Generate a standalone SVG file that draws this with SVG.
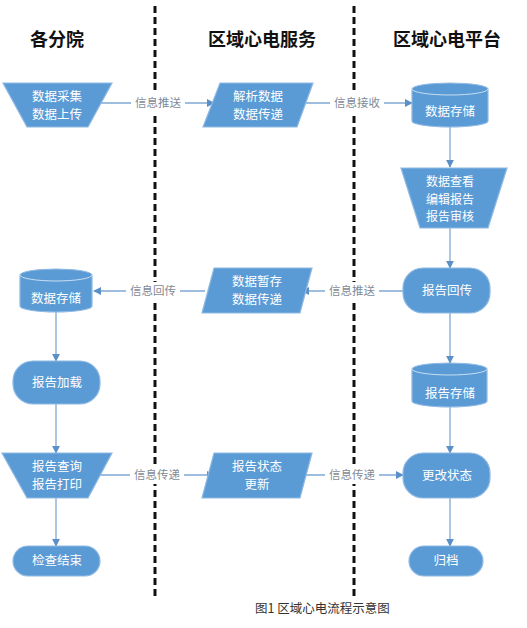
<svg xmlns="http://www.w3.org/2000/svg" width="527" height="628" viewBox="0 0 527 628">
<defs>
<style>
.node{fill:#5b9bd5;stroke:#8fb9e3;stroke-width:1.2}
.t{font-family:"Noto Sans CJK SC",sans-serif;font-size:12.5px;fill:#fff;text-anchor:middle}
.ts{font-size:12px}
.h{font-family:"Noto Sans CJK SC",sans-serif;font-size:18px;font-weight:bold;fill:#111;text-anchor:middle}
.lbl{font-family:"Noto Sans CJK SC",sans-serif;font-size:11.5px;fill:#7f8a96;text-anchor:middle}
.lb{fill:#fff}
.c{stroke:#7fa8d4;stroke-width:1.3;fill:none}
.dash{stroke:#111;stroke-width:3;stroke-dasharray:7 4}
.cap{font-family:"Noto Sans CJK SC",sans-serif;font-size:12.5px;fill:#333}
.rim{fill:none;stroke:#c9def2;stroke-width:1}
</style>
<marker id="ah" viewBox="0 0 10 10" refX="9" refY="5" markerWidth="8" markerHeight="8" orient="auto" markerUnits="userSpaceOnUse">
<path d="M0,0 L10,5 L0,10 z" fill="#5b8fc7"/>
</marker>
</defs>
<rect width="527" height="628" fill="#fff"/>

<g id="lanes">
<line class="dash" x1="155" y1="6" x2="155" y2="600"/>
<line class="dash" x1="354" y1="6" x2="354" y2="600"/>
</g>

<g id="headers">
<text class="h" x="57" y="46">各分院</text>
<text class="h" x="262" y="46">区域心电服务</text>
<text class="h" x="447" y="46">区域心电平台</text>
</g>

<g id="connectors">
<line class="c" x1="100" y1="103" x2="214" y2="103" marker-end="url(#ah)"/>
<line class="c" x1="302" y1="103" x2="412" y2="103" marker-end="url(#ah)"/>
<line class="c" x1="450" y1="127" x2="450" y2="167" marker-end="url(#ah)"/>
<line class="c" x1="450" y1="228" x2="450" y2="268" marker-end="url(#ah)"/>
<line class="c" x1="403" y1="291" x2="302" y2="291" marker-end="url(#ah)"/>
<line class="c" x1="205" y1="291" x2="94" y2="291" marker-end="url(#ah)"/>
<line class="c" x1="56" y1="312" x2="56" y2="361" marker-end="url(#ah)"/>
<line class="c" x1="450" y1="313" x2="450" y2="363" marker-end="url(#ah)"/>
<line class="c" x1="56" y1="404" x2="56" y2="453" marker-end="url(#ah)"/>
<line class="c" x1="450" y1="407" x2="450" y2="453" marker-end="url(#ah)"/>
<line class="c" x1="100" y1="475" x2="214" y2="475" marker-end="url(#ah)"/>
<line class="c" x1="302" y1="475" x2="403" y2="475" marker-end="url(#ah)"/>
<line class="c" x1="56" y1="498" x2="56" y2="546" marker-end="url(#ah)"/>
<line class="c" x1="450" y1="498" x2="450" y2="546" marker-end="url(#ah)"/>
<rect class="lb" x="131" y="94" width="54" height="18"/>
<text class="lbl" x="158" y="107">信息推送</text>
<rect class="lb" x="330" y="94" width="54" height="18"/>
<text class="lbl" x="357" y="107">信息接收</text>
<rect class="lb" x="325" y="282" width="54" height="18"/>
<text class="lbl" x="352" y="295">信息推送</text>
<rect class="lb" x="126" y="282" width="54" height="18"/>
<text class="lbl" x="153" y="295">信息回传</text>
<rect class="lb" x="130" y="466" width="54" height="18"/>
<text class="lbl" x="157" y="479">信息传递</text>
<rect class="lb" x="325" y="466" width="54" height="18"/>
<text class="lbl" x="352" y="479">信息传递</text>
</g>

<g id="n1">
<polygon class="node" points="3,83 112,83 88,127 27,127"/>
<text class="t" x="57" y="101">数据采集</text>
<text class="t" x="57" y="119">数据上传</text>
</g>
<g id="n2">
<polygon class="node" points="220,83 313,83 297,127 203,127"/>
<text class="t" x="258" y="101">解析数据</text>
<text class="t" x="258" y="119">数据传递</text>
</g>
<g id="n3">
<path class="node" d="M412,89 A38,6 0 0 1 488,89 V121 A38,6 0 0 1 412,121 Z"/>
<path class="rim" d="M412,89 A38,6 0 0 0 488,89"/>
<text class="t" x="450" y="116">数据存储</text>
</g>
<g id="n4">
<polygon class="node" points="401,168 507,168 488,228 420,228"/>
<text class="t ts" x="450" y="186">数据查看</text>
<text class="t ts" x="450" y="203.5">编辑报告</text>
<text class="t ts" x="450" y="221">报告审核</text>
</g>
<g id="n5">
<rect class="node" x="403" y="268" width="87" height="45" rx="20"/>
<text class="t" x="447" y="295">报告回传</text>
</g>
<g id="n6">
<polygon class="node" points="214,268 312,268 300,313 202,313"/>
<text class="t" x="257" y="286">数据暂存</text>
<text class="t" x="257" y="304">数据传递</text>
</g>
<g id="n7">
<path class="node" d="M20,275 A36,6 0 0 1 92,275 V306 A36,6 0 0 1 20,306 Z"/>
<path class="rim" d="M20,275 A36,6 0 0 0 92,275"/>
<text class="t" x="56" y="303">数据存储</text>
</g>
<g id="n8">
<rect class="node" x="13" y="361" width="87" height="43" rx="20"/>
<text class="t" x="57" y="387">报告加载</text>
</g>
<g id="n9">
<path class="node" d="M412,369 A37.5,6 0 0 1 487,369 V401 A37.5,6 0 0 1 412,401 Z"/>
<path class="rim" d="M412,369 A37.5,6 0 0 0 487,369"/>
<text class="t" x="450" y="398">报告存储</text>
</g>
<g id="n10">
<polygon class="node" points="2,453 112,453 88,498 27,498"/>
<text class="t" x="57" y="471">报告查询</text>
<text class="t" x="57" y="489">报告打印</text>
</g>
<g id="n11">
<polygon class="node" points="214,453 312,453 300,498 202,498"/>
<text class="t" x="257" y="471">报告状态</text>
<text class="t" x="257" y="489">更新</text>
</g>
<g id="n12">
<rect class="node" x="403" y="453" width="87" height="45" rx="20"/>
<text class="t" x="447" y="480">更改状态</text>
</g>
<g id="n13">
<rect class="node" x="13" y="546" width="87" height="30" rx="15"/>
<text class="t" x="57" y="565">检查结束</text>
</g>
<g id="n14">
<rect class="node" x="409" y="546" width="74" height="30" rx="15"/>
<text class="t" x="446" y="565">归档</text>
</g>

<text class="cap" x="255" y="613">图1 区域心电流程示意图</text>
</svg>
